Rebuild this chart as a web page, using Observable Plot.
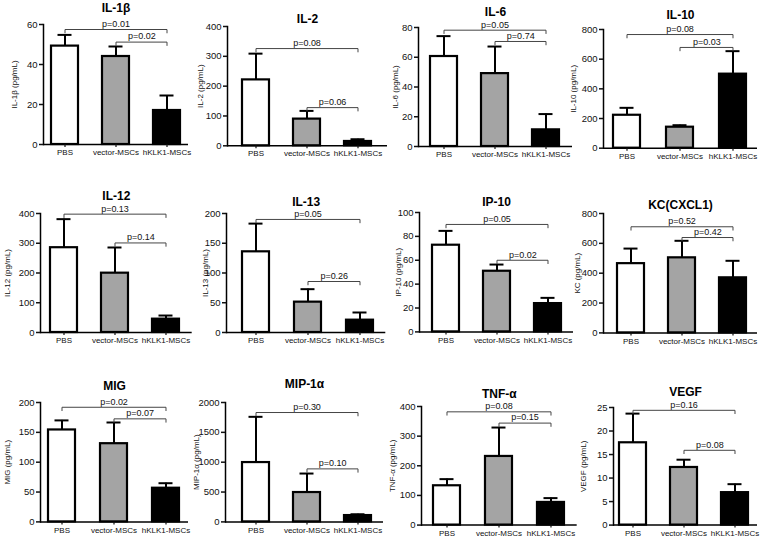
<!DOCTYPE html>
<html><head><meta charset="utf-8">
<script src="https://cdn.jsdelivr.net/npm/d3@7"></script>
<script src="https://cdn.jsdelivr.net/npm/@observablehq/plot@0.6"></script>
<style>
body{margin:0;background:#fff}
#chart{position:relative;width:766px;height:540px;overflow:hidden;background:#fff}
</style>
</head><body><div id="chart"></div>
<script>
// ---- data ----
const groups = ["PBS", "vector-MSCs", "hKLK1-MSCs"];
const titles = ["IL-1β", "IL-2", "IL-6", "IL-10", "IL-12", "IL-13", "IP-10", "KC(CXCL1)", "MIG", "MIP-1α", "TNF-α", "VEGF"];
const yLabels = ["IL-1β (pg/mL)", "IL-2 (pg/mL)", "IL-6 (pg/mL)", "IL-10 (pg/mL)", "IL-12 (pg/mL)", "IL-13 (pg/mL)", "IP-10 (pg/mL)", "KC (pg/mL)", "MIG (pg/mL)", "MIP-1α (pg/mL)", "TNF-α (pg/mL)", "VEGF (pg/mL)"];
const pbsMean    = [49.2, 221, 60.5, 222, 285, 135.6, 72.6, 464, 154, 994, 132.6, 17.5];
const pbsTop     = [54.8, 309, 74.2, 272, 381, 183, 84.6, 565, 170, 1760, 155, 23.7];
const vectorMean = [44, 89.5, 49, 141.5, 199.4, 51, 50.8, 503, 131, 492, 231.5, 12.25];
const vectorTop  = [49, 117, 67.2, 155, 285.7, 72.8, 56.4, 617, 166.5, 810, 329, 13.9];
const hklkMean   = [17, 14.5, 11.2, 499, 44.8, 20.7, 23.7, 369, 56.4, 106, 76.4, 6.9];
const hklkTop    = [24.5, 22, 21.8, 654, 57, 33.6, 28.5, 483, 64.8, 128, 91, 8.7];
const yMax  = [60, 400, 80, 800, 400, 200, 100, 800, 200, 2000, 400, 25];
const yStep = [20, 100, 20, 200, 100, 50, 20, 200, 50, 500, 100, 5];
const pLong  = ["p=0.01", "p=0.08", "p=0.05", "p=0.08", "p=0.13", "p=0.05", "p=0.05", "p=0.52", "p=0.02", "p=0.30", "p=0.08", "p=0.16"];
const pShort = ["p=0.02", "p=0.06", "p=0.74", "p=0.03", "p=0.14", "p=0.26", "p=0.02", "p=0.42", "p=0.07", "p=0.10", "p=0.15", "p=0.08"];
const bracketLong  = [57.5, 326, 78.2, 766, 397.8, 190, 90, 711, 192, 1832, 382, 24.4];
const bracketShort = [51.2, 128, 70.6, 679, 301, 85.7, 60, 639, 172.6, 888, 344, 15.9];

// ---- layout (pixels in the 766x540 page) ----
const layout = [
  {axisX: 43,    axisEnd: 188,   top: 24,    zero: 144,   c1: 63.5,  c3: 167,   labelOff: 29, titleY: 8},
  {axisX: 227,   axisEnd: 387,   top: 25.7,  zero: 145,   c1: 255,   c3: 357,   labelOff: 27, titleY: 18},
  {axisX: 418,   axisEnd: 572,   top: 26.7,  zero: 145.7, c1: 442.5, c3: 545.5, labelOff: 23, titleY: 11.5},
  {axisX: 603,   axisEnd: 757,   top: 29.3,  zero: 148,   c1: 626,   c3: 733.3, labelOff: 30, titleY: 15},
  {axisX: 40,    axisEnd: 191.7, top: 212.7, zero: 331.7, c1: 62.5,  c3: 166.3, labelOff: 33, titleY: 195},
  {axisX: 225.7, axisEnd: 385,   top: 212.7, zero: 331.7, c1: 255,   c3: 360,   labelOff: 21, titleY: 201},
  {axisX: 419,   axisEnd: 573,   top: 212.3, zero: 331.7, c1: 445,   c3: 548.5, labelOff: 21, titleY: 202},
  {axisX: 602.7, axisEnd: 756.7, top: 213.3, zero: 332.7, c1: 629.3, c3: 732.5, labelOff: 26, titleY: 205},
  {axisX: 40,    axisEnd: 188,   top: 402.3, zero: 521.7, c1: 61,    c3: 165.3, labelOff: 33, titleY: 386},
  {axisX: 225,   axisEnd: 383,   top: 402.3, zero: 521.7, c1: 255.3, c3: 358,   labelOff: 29, titleY: 384},
  {axisX: 421,   axisEnd: 576.7, top: 405.7, zero: 524.3, c1: 446.7, c3: 550.7, labelOff: 29, titleY: 393.5},
  {axisX: 612.7, axisEnd: 756.7, top: 406.7, zero: 524.3, c1: 631.5, c3: 735,   labelOff: 30, titleY: 391}
];

const FONT = '"Liberation Sans", Arial, Helvetica, sans-serif';
const chart = document.getElementById("chart");
const BW = 27;

titles.forEach((title, i) => {
  const L = layout[i];
  const mL = 45, mT = 30, mR = 6, mB = 22;
  const left = L.axisX - mL, top = L.top - mT;
  const width = L.axisEnd - left + mR;
  const height = mT + (L.zero - L.top) + mB;
  const step = (L.c3 - L.c1) / 2;
  const rows = groups.map((g, j) => ({
    group: g,
    mean: [pbsMean, vectorMean, hklkMean][j][i],
    top: [pbsTop, vectorTop, hklkTop][j][i]
  }));
  const d = yMax[i] * 0.028;
  const bracketPts = [
    {b: "long", x: groups[0], y: bracketLong[i] - d},
    {b: "long", x: groups[0], y: bracketLong[i]},
    {b: "long", x: groups[2], y: bracketLong[i]},
    {b: "long", x: groups[2], y: bracketLong[i] - d},
    {b: "short", x: groups[1], y: bracketShort[i] - d},
    {b: "short", x: groups[1], y: bracketShort[i]},
    {b: "short", x: groups[2], y: bracketShort[i]},
    {b: "short", x: groups[2], y: bracketShort[i] - d}
  ];
  const svg = Plot.plot({
    width, height,
    marginLeft: mL, marginTop: mT, marginRight: mR, marginBottom: mB,
    style: {background: "transparent", overflow: "visible", fontFamily: FONT, color: "#111"},
    x: {type: "band", domain: groups, range: [L.c1 - BW / 2 - left, L.c3 + BW / 2 - left],
        paddingInner: 1 - BW / step, paddingOuter: 0, align: 0.5, label: null},
    y: {domain: [0, yMax[i]], label: null},
    color: {domain: groups, range: ["#ffffff", "#a4a4a4", "#000000"]},
    marks: [
      Plot.barY(rows, {x: "group", y: "mean", fill: "group", stroke: "#000", strokeWidth: 2.2}),
      Plot.ruleX(rows, {x: "group", y1: "mean", y2: "top", stroke: "#000", strokeWidth: 2}),
      Plot.tickY(rows, {x: "group", y: "top", stroke: "#000", strokeWidth: 2, insetLeft: 6.5, insetRight: 6.5}),
      Plot.line(bracketPts, {x: "x", y: "y", z: "b", stroke: "#444", strokeWidth: 1}),
      Plot.text([pLong[i]], {x: () => groups[1], y: () => bracketLong[i], text: d => d, dy: -5.5, fontSize: 9, fill: "#111"}),
      Plot.text([pShort[i]], {x: () => groups[1], y: () => bracketShort[i], text: d => d, dx: step / 2, dy: -5.5, fontSize: 9, fill: "#111"}),
      Plot.ruleY([0], {stroke: "#000", strokeWidth: 1.5}),
      Plot.frame({anchor: "left", stroke: "#000", strokeWidth: 1.5}),
      Plot.axisY({ticks: d3.range(0, yMax[i] + yStep[i] / 2, yStep[i]), tickFormat: v => String(v), tickSize: 4, tickPadding: 2, fontSize: 9.5, label: null, strokeWidth: 1.5}),
      Plot.axisX({tickSize: 3, tickPadding: 2, fontSize: 8, label: null, strokeWidth: 1.2}),
      Plot.text([title], {frameAnchor: "top", lineAnchor: "middle", textAnchor: "middle", dy: L.titleY - L.top, text: d => d, fontSize: 12, fontWeight: "bold", fill: "#000"}),
      Plot.text([yLabels[i]], {frameAnchor: "left", rotate: -90, textAnchor: "middle", lineAnchor: "middle", dx: -L.labelOff, text: d => d, fontSize: 8, fill: "#111"})
    ]
  });
  svg.style.position = "absolute";
  svg.style.left = left + "px";
  svg.style.top = top + "px";
  svg.style.maxWidth = "none";
  chart.appendChild(svg);
});
</script>
</body></html>
